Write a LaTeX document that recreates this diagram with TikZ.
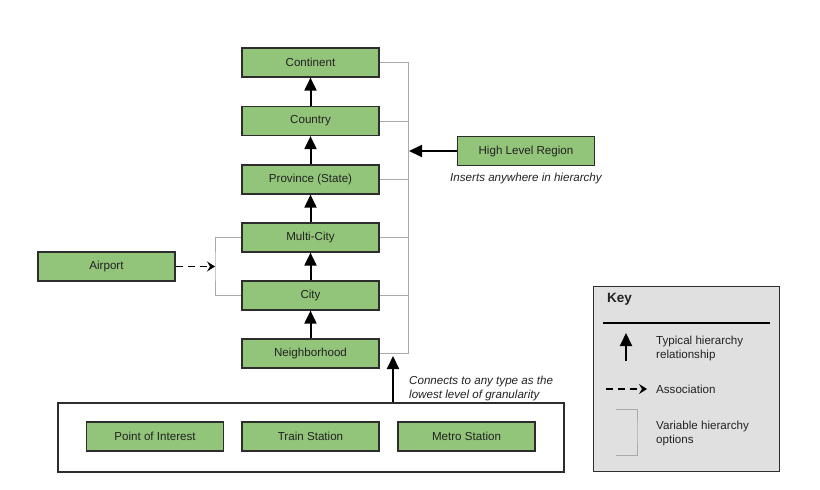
\documentclass[tikz,border=0pt]{standalone}
\usepackage{fontspec}
\setmainfont{Liberation Sans}
\usetikzlibrary{arrows.meta,positioning}

\definecolor{boxgreen}{RGB}{146,196,122}
\definecolor{boxline}{RGB}{45,45,45}
\definecolor{railgray}{RGB}{170,170,170}
\definecolor{keygray}{RGB}{224,224,224}
\definecolor{inkdark}{RGB}{34,34,34}

\tikzset{
  level/.style={draw=boxline, fill=boxgreen, line width=1.2pt, minimum width=137pt,
    minimum height=29pt, inner sep=0pt, text=inkdark, font=\fontsize{11.6}{13}\selectfont},
  hier/.style={line width=2pt, -{Triangle[width=12pt,length=13pt]}},
  assoc/.style={line width=1.8pt, dash pattern=on 7pt off 5pt, -{Stealth[width=10pt,length=8pt,inset=3pt]}},
  option/.style={draw=railgray, line width=1pt},
  note/.style={font=\fontsize{11.6}{13.5}\itshape, text=inkdark, align=left, inner sep=0pt},
  keytext/.style={font=\fontsize{11.6}{14}\selectfont, text=inkdark, align=left, inner sep=0pt, anchor=west}
}

\begin{document}
\begin{tikzpicture}[x=1pt, y=-1pt]
    \useasboundingbox (0,0) rectangle (820,490);

    % hierarchy levels
    \node[level] (continent) at (310.5,62.5) {Continent};
    \node[level] (country) at (310.5,121) {Country};
    \node[level] (province) at (310.5,179.5) {Province (State)};
    \node[level] (multicity) at (310.5,237.5) {Multi-City};
    \node[level] (city) at (310.5,295.5) {City};
    \node[level] (neighborhood) at (310.5,353.5) {Neighborhood};

    \draw[hier] (country) -- (continent);
    \draw[hier] (province) -- (country);
    \draw[hier] (multicity) -- (province);
    \draw[hier] (city) -- (multicity);
    \draw[hier] (neighborhood) -- (city);

    % variable options on the right
    \coordinate (rail) at (408,353.5);
    \draw[option] (continent.east) -| (rail) -- (neighborhood.east);
    \draw[option] (country.east) -- (country.east -| rail);
    \draw[option] (province.east) -- (province.east -| rail);
    \draw[option] (multicity.east) -- (multicity.east -| rail);
    \draw[option] (city.east) -- (city.east -| rail);

    \node[level] (highlevel) at (526,151) {High Level Region};
    \coordinate (insert) at (409,151);
    \draw[hier] (highlevel) -- (insert);
    \node[note, below=7pt of highlevel] (insertnote) {Inserts anywhere in hierarchy};

    % airport
    \coordinate (lrail) at (215,266.5);
    \draw[option] (multicity.west) -| (lrail) |- (city.west);
    \node[level] (airport) at (106.5,266.5) {Airport};
    \draw[assoc] (airport) -- (lrail);

    % lowest level
    \node[draw=boxline, line width=1.2pt, minimum width=506pt, minimum height=69pt] (lowest) at (311,437.5) {};
    \node[level] (poi) at (155,436.5) {Point of Interest};
    \node[level] (train) at (310.5,436.5) {Train Station};
    \node[level] (metro) at (466.5,436.5) {Metro Station};
    \coordinate (nbin) at (393,356);
    \draw[hier] (nbin |- lowest.north) -- (nbin);
    \node[note, anchor=north west] (lownote) at (409,376) {Connects to any type as the\\lowest level of granularity};

    % key
    \node[draw=boxline, fill=keygray, line width=1.2pt, minimum width=186pt, minimum height=185pt, anchor=north west] (key) at (593,286) {};
    \node[anchor=west, font=\fontsize{13.5}{15}\bfseries\selectfont, text=inkdark, inner sep=0pt] (keytitle) at (607,299) {Key};
    \coordinate (keyl) at (603,323);
    \coordinate (keyr) at (770,323);
    \draw[line width=1.4pt] (keyl) -- (keyr);

    \coordinate (ka) at (626,361);
    \coordinate (kb) at (626,333);
    \draw[hier] (ka) -- (kb);
    \node[keytext] (ktyp) at (656,348) {Typical hierarchy\\relationship};

    \coordinate (kc) at (606,389);
    \coordinate (kd) at (647,389);
    \draw[assoc] (kc) -- (kd);
    \node[keytext] (kass) at (656,389) {Association};

    \coordinate (ke) at (616,409);
    \coordinate (kf) at (616,455);
    \draw[option] (ke) -| (637,432) |- (kf);
    \node[keytext] (kvar) at (656,433) {Variable hierarchy\\options};
\end{tikzpicture}
\end{document}
